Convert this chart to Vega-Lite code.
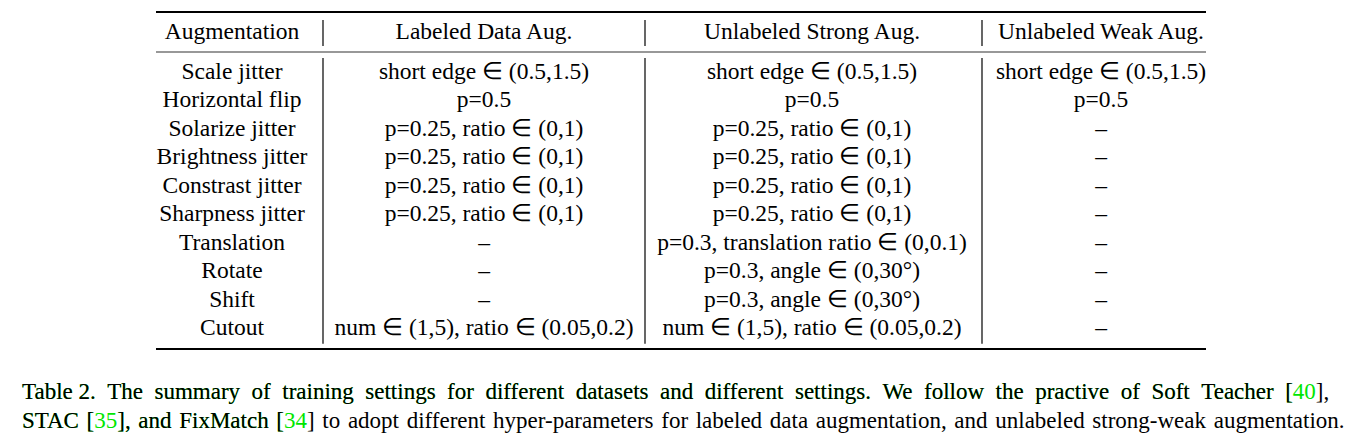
{
  "$schema": "https://vega.github.io/schema/vega-lite/v6.json",
  "width": 1352,
  "height": 444,
  "padding": 0,
  "autosize": {"type": "none"},
  "background": "white",
  "config": {"view": {"stroke": null}},
  "datasets": {
    "cells": [
      {"col": 0.5, "row": 0, "text": "Augmentation"},
      {"col": 1.5, "row": 0, "text": "Labeled Data Aug."},
      {"col": 2.5, "row": 0, "text": "Unlabeled Strong Aug."},
      {"col": 3.5, "row": 0, "text": "Unlabeled Weak Aug."},
      {"col": 0.5, "row": 1, "text": "Scale jitter"},
      {"col": 1.5, "row": 1, "text": "short edge ∈ (0.5,1.5)"},
      {"col": 2.5, "row": 1, "text": "short edge ∈ (0.5,1.5)"},
      {"col": 3.5, "row": 1, "text": "short edge ∈ (0.5,1.5)"},
      {"col": 0.5, "row": 2, "text": "Horizontal flip"},
      {"col": 1.5, "row": 2, "text": "p=0.5"},
      {"col": 2.5, "row": 2, "text": "p=0.5"},
      {"col": 3.5, "row": 2, "text": "p=0.5"},
      {"col": 0.5, "row": 3, "text": "Solarize jitter"},
      {"col": 1.5, "row": 3, "text": "p=0.25, ratio ∈ (0,1)"},
      {"col": 2.5, "row": 3, "text": "p=0.25, ratio ∈ (0,1)"},
      {"col": 3.5, "row": 3, "text": "–"},
      {"col": 0.5, "row": 4, "text": "Brightness jitter"},
      {"col": 1.5, "row": 4, "text": "p=0.25, ratio ∈ (0,1)"},
      {"col": 2.5, "row": 4, "text": "p=0.25, ratio ∈ (0,1)"},
      {"col": 3.5, "row": 4, "text": "–"},
      {"col": 0.5, "row": 5, "text": "Constrast jitter"},
      {"col": 1.5, "row": 5, "text": "p=0.25, ratio ∈ (0,1)"},
      {"col": 2.5, "row": 5, "text": "p=0.25, ratio ∈ (0,1)"},
      {"col": 3.5, "row": 5, "text": "–"},
      {"col": 0.5, "row": 6, "text": "Sharpness jitter"},
      {"col": 1.5, "row": 6, "text": "p=0.25, ratio ∈ (0,1)"},
      {"col": 2.5, "row": 6, "text": "p=0.25, ratio ∈ (0,1)"},
      {"col": 3.5, "row": 6, "text": "–"},
      {"col": 0.5, "row": 7, "text": "Translation"},
      {"col": 1.5, "row": 7, "text": "–"},
      {"col": 2.5, "row": 7, "text": "p=0.3, translation ratio ∈ (0,0.1)"},
      {"col": 3.5, "row": 7, "text": "–"},
      {"col": 0.5, "row": 8, "text": "Rotate"},
      {"col": 1.5, "row": 8, "text": "–"},
      {"col": 2.5, "row": 8, "text": "p=0.3, angle ∈ (0,30°)"},
      {"col": 3.5, "row": 8, "text": "–"},
      {"col": 0.5, "row": 9, "text": "Shift"},
      {"col": 1.5, "row": 9, "text": "–"},
      {"col": 2.5, "row": 9, "text": "p=0.3, angle ∈ (0,30°)"},
      {"col": 3.5, "row": 9, "text": "–"},
      {"col": 0.5, "row": 10, "text": "Cutout"},
      {"col": 1.5, "row": 10, "text": "num ∈ (1,5), ratio ∈ (0.05,0.2)"},
      {"col": 2.5, "row": 10, "text": "num ∈ (1,5), ratio ∈ (0.05,0.2)"},
      {"col": 3.5, "row": 10, "text": "–"}
    ],
    "thickRules": [
      {"x1": 0, "x2": 4, "y": -1},
      {"x1": 0, "x2": 4, "y": 11}
    ],
    "thinRules": [
      {"x1": 0, "x2": 4, "y": 0.5}
    ],
    "vRules": [
      {"x": 1, "y1": -0.6, "y2": 0.35},
      {"x": 2, "y1": -0.6, "y2": 0.35},
      {"x": 3, "y1": -0.6, "y2": 0.35},
      {"x": 1, "y1": 0.65, "y2": 10.75},
      {"x": 2, "y1": 0.65, "y2": 10.75},
      {"x": 3, "y1": 0.65, "y2": 10.75}
    ],
    "caption1": [
      {"x": -1, "y": 12, "kind": "cite", "text": "Table\u00a02.\u00a0\u00a0The\u2002summary\u2002of\u2002training\u2002settings\u2002for\u2002different\u2002datasets\u2002and\u2002different\u2002settings.\u00a0\u00a0We\u2002follow\u2002the\u2002practive\u2002of\u2002Soft\u2002Teacher\u2002[40"},
      {"x": -1, "y": 12, "kind": "plain", "text": "Table\u00a02.\u00a0\u00a0The\u2002summary\u2002of\u2002training\u2002settings\u2002for\u2002different\u2002datasets\u2002and\u2002different\u2002settings.\u00a0\u00a0We\u2002follow\u2002the\u2002practive\u2002of\u2002Soft\u2002Teacher\u2002[\u2007\u2007],"}
    ],
    "caption2": [
      {"x": -1, "y": 13, "kind": "cite", "text": "STAC\u00a0\u200a[35],\u00a0\u200aand\u00a0\u200aFixMatch\u00a0\u200a[34"},
      {"x": -1, "y": 13, "kind": "plain", "text": "STAC\u00a0\u200a[\u2007\u2007],\u00a0\u200aand\u00a0\u200aFixMatch\u00a0\u200a[\u2007\u2007]\u00a0\u200ato\u00a0\u200aadopt\u00a0\u200adifferent\u00a0\u200ahyper-parameters\u00a0\u200afor\u00a0\u200alabeled\u00a0\u200adata\u00a0\u200aaugmentation,\u00a0\u200aand\u00a0\u200aunlabeled\u00a0\u200astrong-weak\u00a0\u200aaugmentation."}
    ]
  },
  "layer": [
    {
      "data": {"name": "thickRules"},
      "mark": {"type": "rule", "color": "black", "strokeWidth": 1.8},
      "encoding": {
        "x": {"field": "x1", "type": "quantitative", "scale": {"domain": [-1, 0, 0.5, 1, 1.5, 2, 2.5, 3, 3.5, 4, 5], "range": [22, 156, 232, 323, 484, 645, 812, 982, 1101, 1206, 1340], "zero": false, "nice": false}, "axis": null},
        "x2": {"field": "x2"},
        "y": {"field": "y", "type": "quantitative", "scale": {"domain": [-1, 0, 0.5, 1, 10, 11, 12, 13], "range": [12, 32, 52, 72, 328, 349, 392, 421], "zero": false, "nice": false}, "axis": null}
      }
    },
    {
      "data": {"name": "thinRules"},
      "mark": {"type": "rule", "color": "#333333", "strokeWidth": 1.2},
      "encoding": {
        "x": {"field": "x1", "type": "quantitative", "axis": null},
        "x2": {"field": "x2"},
        "y": {"field": "y", "type": "quantitative", "axis": null}
      }
    },
    {
      "data": {"name": "vRules"},
      "mark": {"type": "rule", "color": "black", "strokeWidth": 1.2},
      "encoding": {
        "x": {"field": "x", "type": "quantitative", "axis": null},
        "y": {"field": "y1", "type": "quantitative", "axis": null},
        "y2": {"field": "y2"}
      }
    },
    {
      "data": {"name": "cells"},
      "mark": {"type": "text", "font": "Liberation Serif", "fontSize": 23.5, "color": "black", "align": "center", "baseline": "middle"},
      "encoding": {
        "x": {"field": "col", "type": "quantitative", "axis": null},
        "y": {"field": "row", "type": "quantitative", "axis": null},
        "text": {"field": "text"}
      }
    },
    {
      "data": {"name": "caption1"},
      "mark": {"type": "text", "font": "Liberation Serif", "fontSize": 23, "align": "left", "baseline": "middle"},
      "encoding": {
        "x": {"field": "x", "type": "quantitative", "axis": null},
        "y": {"field": "y", "type": "quantitative", "axis": null},
        "text": {"field": "text"},
        "color": {"field": "kind", "type": "nominal", "scale": {"domain": ["plain", "cite"], "range": ["black", "#00e600"]}, "legend": null}
      }
    },
    {
      "data": {"name": "caption2"},
      "mark": {"type": "text", "font": "Liberation Serif", "fontSize": 23, "align": "left", "baseline": "middle"},
      "encoding": {
        "x": {"field": "x", "type": "quantitative", "axis": null},
        "y": {"field": "y", "type": "quantitative", "axis": null},
        "text": {"field": "text"},
        "color": {"field": "kind", "type": "nominal", "legend": null}
      }
    }
  ]
}
